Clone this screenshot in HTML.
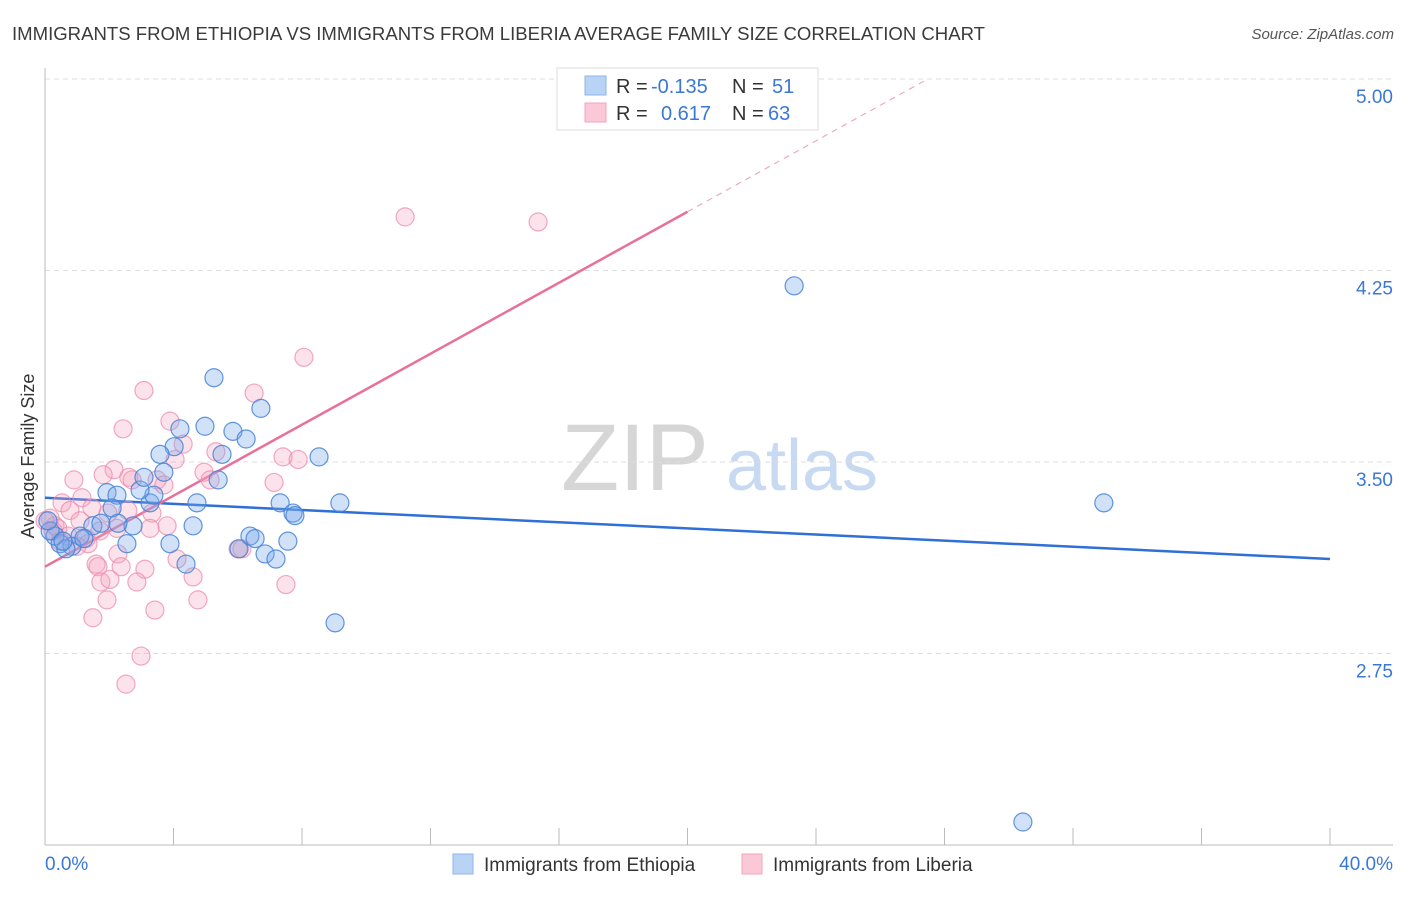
<!DOCTYPE html>
<html><head><meta charset="utf-8"><style>
body{margin:0;background:#fff;font-family:"Liberation Sans",sans-serif;}
svg text{font-family:"Liberation Sans",sans-serif;}
</style></head><body>
<svg id="chart" width="1406" height="892" xmlns="http://www.w3.org/2000/svg">
<text x="12" y="40" font-size="18" fill="#3a3a3a" textLength="973" lengthAdjust="spacingAndGlyphs">IMMIGRANTS FROM ETHIOPIA VS IMMIGRANTS FROM LIBERIA AVERAGE FAMILY SIZE CORRELATION CHART</text>
<text x="1394" y="39" font-size="15" fill="#555" font-style="italic" text-anchor="end">Source: ZipAtlas.com</text>
<g>
<text x="635" y="490" font-size="95" fill="#d6d6d6" font-family="Liberation Serif" text-anchor="middle">ZIP</text>
<text x="802" y="490" font-size="72" fill="#c8daf2" text-anchor="middle">atlas</text>
</g>
<g id="grid"></g><g id="axes"></g><g id="lines"></g><g id="pts"></g>
<g>
<rect x="557" y="68" width="261" height="62" fill="#fff" stroke="#ddd"/>
<rect x="585" y="76" width="21" height="19" fill="#b9d3f5" stroke="#8db4ea"/>
<rect x="585" y="103" width="21" height="19" fill="#fbc8d7" stroke="#f2a5bd"/>
<text x="616" y="93" font-size="20" fill="#333">R = </text><text x="651" y="93" font-size="20" fill="#3b78d4">-0.135</text>
<text x="732" y="93" font-size="20" fill="#333">N = </text><text x="772" y="93" font-size="20" fill="#3b78d4">51</text>
<text x="616" y="120" font-size="20" fill="#333">R = </text><text x="661" y="120" font-size="20" fill="#3b78d4">0.617</text>
<text x="732" y="120" font-size="20" fill="#333">N = </text><text x="768" y="120" font-size="20" fill="#3b78d4">63</text>
</g>
<g>
<rect x="453" y="854" width="20" height="20" fill="#b9d3f5" stroke="#8db4ea"/>
<text x="484" y="871" font-size="19" fill="#333">Immigrants from Ethiopia</text>
<rect x="742" y="854" width="20" height="20" fill="#fbc8d7" stroke="#f2a5bd"/>
<text x="773" y="871" font-size="19" fill="#333">Immigrants from Liberia</text>
</g>
<text transform="translate(34,456) rotate(-90)" font-size="18" fill="#333" text-anchor="middle">Average Family Size</text>
</svg>
<script>
const yTicks=[2.75,3.50,4.25,5.00];
const yTickLabels=["2.75","3.50","4.25","5.00"];
const xTicks=[0,4,8,12,16,20,24,28,32,36,40];
const blueX=[23.32,32.96,30.44,9.03,5.26,6.72,4.98,5.85,6.26,4.20,4.02,3.58,3.70,5.51,5.39,8.53,9.18,7.32,7.72,7.78,6.38,6.54,6.04,6.85,7.19,7.56,4.73,4.61,4.39,3.89,2.55,2.74,3.27,3.39,2.96,3.08,1.93,2.24,2.09,1.49,1.74,1.09,0.84,0.47,0.31,0.16,0.09,0.65,1.21,0.56,2.27];
const blueY=[4.19,3.34,2.09,2.87,3.83,3.71,3.64,3.62,3.59,3.63,3.56,3.53,3.46,3.53,3.43,3.52,3.34,3.34,3.30,3.29,3.21,3.20,3.16,3.14,3.12,3.19,3.34,3.25,3.10,3.18,3.18,3.25,3.34,3.37,3.39,3.44,3.38,3.37,3.32,3.25,3.26,3.21,3.17,3.18,3.21,3.23,3.27,3.16,3.20,3.19,3.26];
const pinkX=[11.21,15.35,8.06,6.51,3.08,2.43,3.89,4.30,5.32,4.95,5.14,7.41,7.88,7.13,2.15,2.61,2.71,3.49,3.70,0.90,1.15,0.53,1.46,1.96,3.33,3.80,3.27,2.24,2.58,1.71,1.34,1.00,2.27,1.59,1.65,2.37,3.11,4.11,4.61,1.74,2.02,2.86,6.01,6.13,7.50,1.93,3.42,4.76,1.49,2.99,2.52,0.16,0.31,0.40,0.00,0.47,0.72,0.78,1.28,1.81,1.09,0.25,4.05];
const pinkY=[4.46,4.44,3.91,3.77,3.78,3.63,3.66,3.57,3.54,3.46,3.43,3.52,3.51,3.42,3.47,3.44,3.43,3.43,3.41,3.43,3.36,3.34,3.32,3.30,3.30,3.25,3.24,3.24,3.31,3.23,3.18,3.17,3.14,3.10,3.09,3.09,3.08,3.12,3.05,3.03,3.04,3.03,3.16,3.16,3.02,2.96,2.92,2.96,2.89,2.74,2.63,3.28,3.25,3.24,3.27,3.19,3.21,3.31,3.20,3.45,3.27,3.23,3.51];
const blueLine=[3.36,3.12];
const pinkLine=[3.09,4.48];
const NS="http://www.w3.org/2000/svg";
const X0=45,X1=1330,Y0=845,Y1=79;
const sx=v=>X0+(v/40)*(X1-X0);
const sy=v=>Y0-(v-2)/3*(Y0-Y1);
function mk(tag,attrs,parent){const e=document.createElementNS(NS,tag);for(const k in attrs)e.setAttribute(k,attrs[k]);document.getElementById(parent).appendChild(e);return e;}
yTicks.forEach((t,i)=>{
 const g=mk('line',{x1:X0,x2:1393,y1:sy(t),y2:sy(t),stroke:'#ddd','stroke-dasharray':'5,4'},'grid');
 
 
 const tx=mk('text',{x:1393,y:sy(t)+24,'font-size':19,fill:'#3b78d4','text-anchor':'end'},'axes');
 tx.textContent=yTickLabels[i];
 
 
});
const ax=mk('line',{x1:X0,x2:X0,y1:68,y2:Y0,stroke:'#bbb'},'axes');


const xa=mk('line',{x1:X0,x2:1393,y1:Y0,y2:Y0,stroke:'#bbb'},'axes');


xTicks.forEach(t=>{
 const l=mk('line',{x1:sx(t),x2:sx(t),y1:828,y2:Y0,stroke:'#bbb'},'axes');
 
 
});
const xl0=mk('text',{x:45,y:870,'font-size':19,fill:'#3b78d4'},'axes');xl0.textContent='0.0%';


const xl1=mk('text',{x:1393,y:870,'font-size':19,fill:'#3b78d4','text-anchor':'end'},'axes');xl1.textContent='40.0%';


function drawPts(xs,ys,fill,stroke,name){xs.forEach((x,i)=>{
 const c=mk('circle',{cx:sx(x),cy:sy(ys[i]),r:9,fill:fill,stroke:stroke,'stroke-width':1.2},'pts');
 
 
});}
drawPts(pinkX,pinkY,'rgba(245,160,188,0.3)','rgba(236,140,172,0.75)','point-liberia');
drawPts(blueX,blueY,'rgba(120,170,235,0.35)','rgba(70,130,215,0.85)','point-ethiopia');
const bl=mk('line',{x1:sx(0),y1:sy(blueLine[0]),x2:sx(40),y2:sy(blueLine[1]),stroke:'#2f6fd6','stroke-width':2.5},'lines');


const slope=(pinkLine[1]-pinkLine[0])/20;
const pl=mk('line',{x1:sx(0),y1:sy(pinkLine[0]),x2:sx(20),y2:sy(pinkLine[1]),stroke:'#e8709a','stroke-width':2.5},'lines');


const xe=(5-pinkLine[0])/slope;
const pd=mk('line',{x1:sx(20),y1:sy(pinkLine[1]),x2:sx(xe),y2:sy(5),stroke:'#eeaac0','stroke-width':1.2,'stroke-dasharray':'6,5'},'lines');


</script>
</body></html>
